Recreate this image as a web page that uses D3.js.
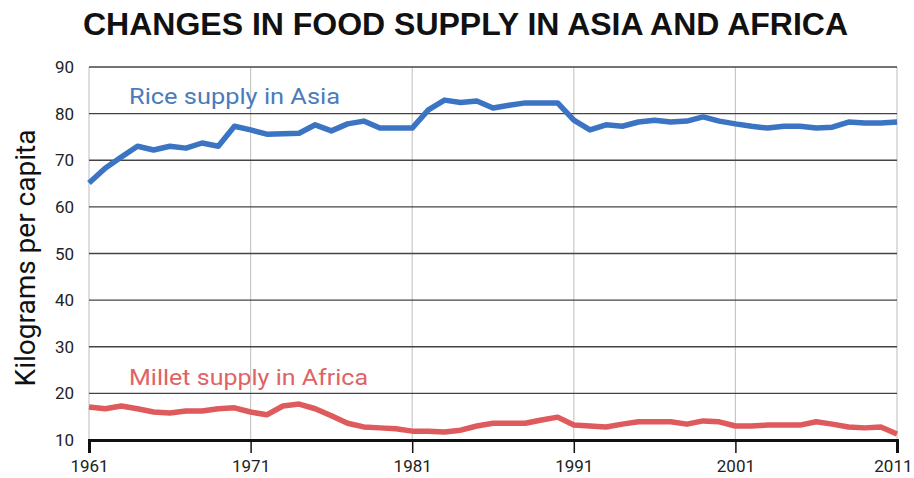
<!DOCTYPE html>
<html><head><meta charset="utf-8">
<script src="https://cdn.jsdelivr.net/npm/d3@7"></script>
<style>body{margin:0;background:#fff}svg{display:block}</style>
</head><body>
<svg id="c" width="914" height="478"></svg>
<script>
const years = d3.range(1961, 2012);
const riceAsia = [65.1,68.3,70.7,73.0,72.2,73.0,72.6,73.7,73.0,77.3,76.5,75.6,75.7,75.8,77.6,76.3,77.8,78.4,76.9,76.9,76.9,80.8,82.9,82.4,82.7,81.2,81.8,82.3,82.3,82.3,78.6,76.5,77.6,77.3,78.2,78.6,78.2,78.4,79.3,78.4,77.8,77.3,76.9,77.3,77.3,76.9,77.1,78.2,78.0,78.0,78.2];
const milletAfrica = [17.1,16.7,17.3,16.7,16.0,15.8,16.2,16.2,16.7,16.9,16.0,15.4,17.3,17.7,16.7,15.2,13.6,12.8,12.6,12.4,11.9,11.9,11.7,12.1,13.0,13.6,13.6,13.6,14.3,14.9,13.2,13.0,12.8,13.4,13.9,13.9,13.9,13.4,14.1,13.9,13.0,13.0,13.2,13.2,13.2,13.9,13.4,12.8,12.6,12.8,11.3];
const yTicks = [10,20,30,40,50,60,70,80,90];
const xTicks = [1961,1971,1981,1991,2001,2011];
const title = "CHANGES IN FOOD SUPPLY IN ASIA AND AFRICA";
const yLabel = "Kilograms per capita";
const riceLabel = "Rice supply in Asia";
const milletLabel = "Millet supply in Africa";

const svg = d3.select("#c");
const x = d3.scaleLinear().domain([1961, 2011]).range([89, 897]);
const y = d3.scaleLinear().domain([10, 90]).range([440, 67]);

// title
svg.append("text").attr("x", 83).attr("y", 35)
  .attr("font-family","'Liberation Sans', Arial, sans-serif").attr("font-weight",700)
  .attr("font-size",31).attr("fill","#111")
  .attr("textLength", 765).attr("lengthAdjust","spacingAndGlyphs").text(title);

// vertical grid
svg.append("g").selectAll("line").data(xTicks).join("line")
  .attr("x1", d=>x(d)).attr("x2", d=>x(d)).attr("y1", y(90)).attr("y2", y(10))
  .attr("stroke","#c8c8c8").attr("stroke-width",1.2);

// horizontal grid
svg.append("g").selectAll("line").data(yTicks.filter(d=>d>10)).join("line")
  .attr("x1", x(1961)).attr("x2", x(2011)).attr("y1", d=>y(d)).attr("y2", d=>y(d))
  .attr("stroke","#444").attr("stroke-width",1.4);

// y tick labels
svg.append("g").selectAll("text").data(yTicks).join("text")
  .attr("x", 74).attr("y", d=>y(d)+6).attr("text-anchor","end")
  .attr("font-family","Roboto, sans-serif").attr("font-size",17).attr("fill","#222")
  .text(d=>d);

// x axis
const xAxis = d3.axisBottom(x).tickValues(xTicks).tickFormat(d3.format("d")).tickSize(13).tickPadding(7);
const gx = svg.append("g").attr("transform", `translate(0,${y(10)})`).call(xAxis);
gx.select(".domain").attr("stroke","#111").attr("stroke-width",3);
gx.selectAll(".tick line").attr("stroke","#111").attr("stroke-width",1.5);
gx.selectAll(".tick text").attr("font-family","Roboto, sans-serif").attr("font-size",17).attr("fill","#222");
gx.selectAll(".tick text").filter(d=>d===2011).attr("text-anchor","end").attr("dx",15);

// y label
svg.append("text").attr("transform","translate(35,258) rotate(-90)").attr("text-anchor","middle")
  .attr("font-family","Roboto, sans-serif").attr("font-size",28).attr("fill","#111").text(yLabel);

const line = d3.line().x((d,i)=>x(years[i])).y(d=>y(d));
svg.append("path").datum(riceAsia).attr("d", line).attr("fill","none")
  .attr("stroke","#3b74c3").attr("stroke-width",5.5).attr("stroke-linejoin","round");
svg.append("path").datum(milletAfrica).attr("d", line).attr("fill","none")
  .attr("stroke","#de5a5c").attr("stroke-width",5.5).attr("stroke-linejoin","round");

svg.append("text").attr("x",129).attr("y",104).attr("font-family","Roboto, sans-serif")
  .attr("font-size",22).attr("fill","#4a7bbd")
  .attr("textLength",211).attr("lengthAdjust","spacingAndGlyphs").text(riceLabel);
svg.append("text").attr("x",129).attr("y",385).attr("font-family","Roboto, sans-serif")
  .attr("font-size",22).attr("fill","#e06264")
  .attr("textLength",239).attr("lengthAdjust","spacingAndGlyphs").text(milletLabel);
</script>
</body></html>
